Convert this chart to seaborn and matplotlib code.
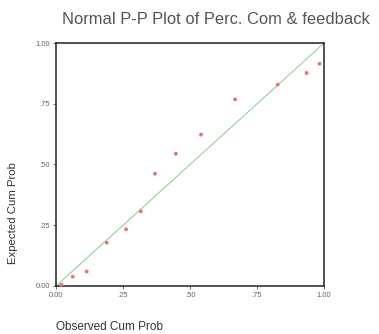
import matplotlib
matplotlib.use("Agg")
import matplotlib.pyplot as plt
import seaborn as sns
import pandas as pd

observed = [0.02, 0.062, 0.114, 0.189, 0.261, 0.316, 0.369, 0.447, 0.541, 0.668, 0.827, 0.935, 0.983]
expected = [0.005, 0.038, 0.059, 0.178, 0.233, 0.307, 0.462, 0.544, 0.623, 0.768, 0.829, 0.877, 0.915]
ref_line = [0.0, 1.0]
tick_vals = [0.0, 0.25, 0.5, 0.75, 1.0]
tick_labels = ["0.00", ".25", ".50", ".75", "1.00"]

sns.set_style("white")
plt.rcParams['font.family'] = ['Liberation Sans', 'DejaVu Sans']

fig = plt.figure(figsize=(3.79, 3.34), dpi=100)
ax = fig.add_axes([0.148, 0.144, 0.707, 0.727])

df = pd.DataFrame({"obs": observed, "exp": expected})
sns.lineplot(x=ref_line, y=ref_line, ax=ax, color="#9fd4a4", linewidth=0.9)
sns.scatterplot(data=df, x="obs", y="exp", ax=ax, color="#e07a7a", s=8,
                marker="o", edgecolor="none", clip_on=False, zorder=3)

ax.set_xlim(0, 1)
ax.set_ylim(0, 1)
ax.set_xticks(tick_vals)
ax.set_xticklabels(tick_labels)
ax.set_yticks(tick_vals)
ax.set_yticklabels(tick_labels)
ax.tick_params(axis="both", which="both", length=2.5, width=0.6, color="#555555",
               labelsize=5.5, labelcolor="#666666", pad=2, direction="out",
               bottom=True, left=True)
for sp in ax.spines.values():
    sp.set_color("#222222")
    sp.set_linewidth(1.1)

ax.set_xlabel("")
ax.set_ylabel("")
fig.text(0.148, 0.004, "Observed Cum Prob", fontsize=8.5, color="#333333", ha="left", va="bottom")
fig.text(0.035, 0.362, "Expected Cum Prob", fontsize=8.2, color="#333333", rotation=90,
         ha="center", va="center")
fig.text(0.57, 0.942, "Normal P-P Plot of Perc. Com & feedback", fontsize=11.9,
         color="#555555", ha="center", va="center")

fig.savefig("out.png", dpi=100, facecolor="white")
